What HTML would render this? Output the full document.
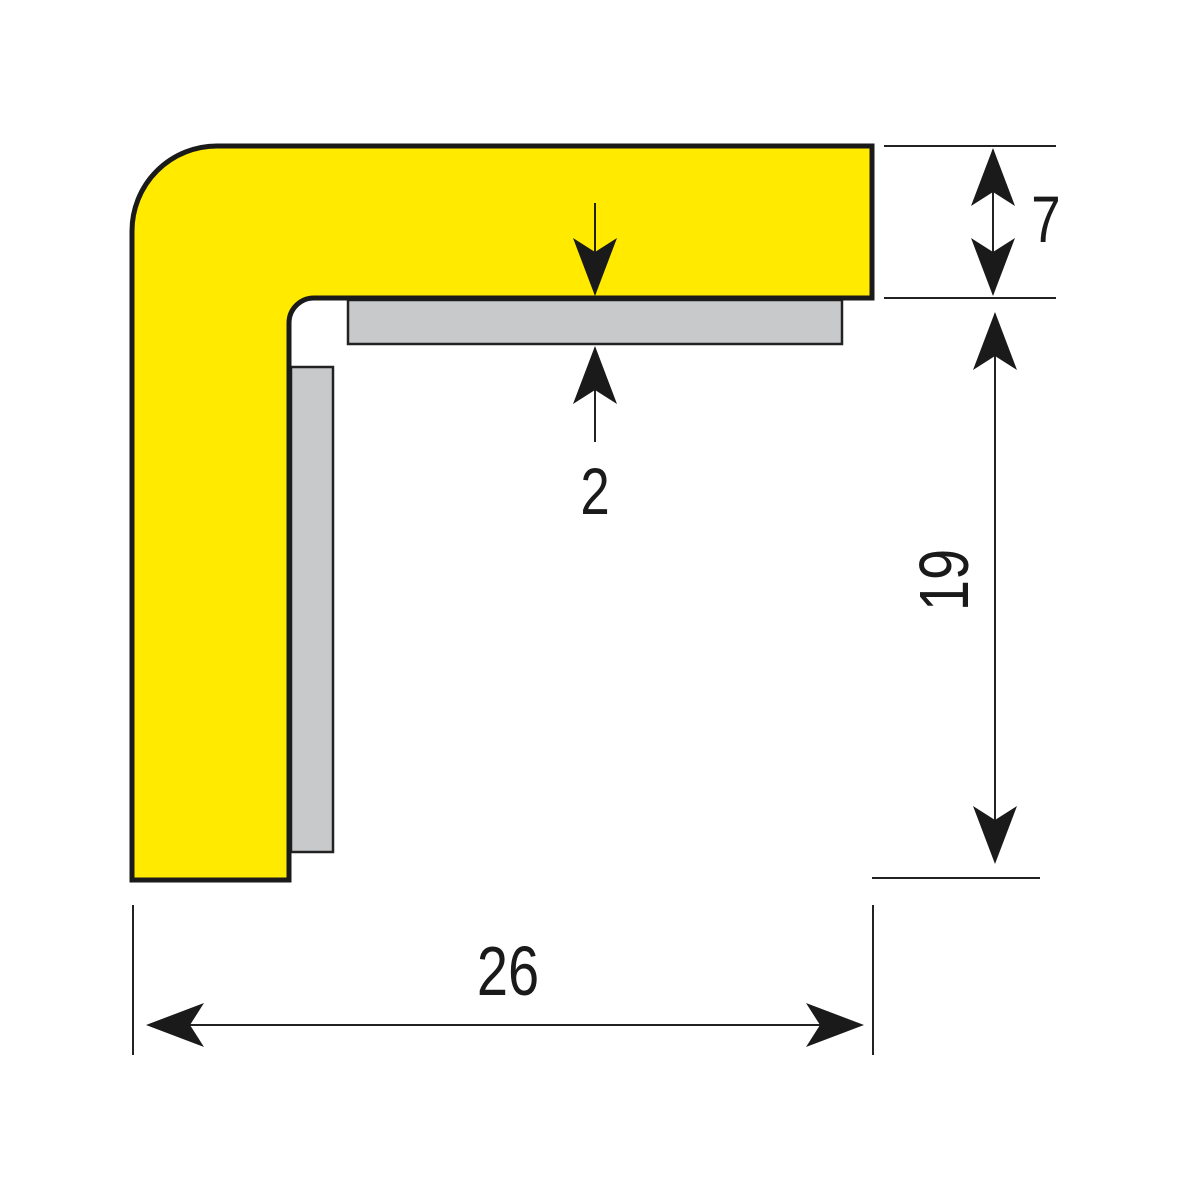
<!DOCTYPE html>
<html><head><style>
html,body{margin:0;padding:0;background:#fff;width:1200px;height:1200px;overflow:hidden}
text{font-family:"Liberation Sans",sans-serif;fill:#1a1a1a}
</style></head><body>
<svg width="1200" height="1200" viewBox="0 0 1200 1200" xmlns="http://www.w3.org/2000/svg">
<defs>
<path id="ah" d="M0 0 L-22 -58 L0 -44 L22 -58 Z" fill="#1a1a1a"/>
</defs>
<!-- gray strips -->
<rect x="348" y="300" width="494" height="44" fill="#c8c9cb" stroke="#222" stroke-width="2.5"/>
<rect x="291" y="367" width="42" height="485" fill="#c8c9cb" stroke="#222" stroke-width="2.5"/>
<!-- yellow profile -->
<path d="M132 880 L132 231 A85 85 0 0 1 217 146 L872 146 L872 298 L314 298 A25 25 0 0 0 289 323 L289 880 Z" fill="#ffea00" stroke="#1a1a1a" stroke-width="5" stroke-linejoin="miter"/>
<!-- extension lines -->
<g stroke="#222" stroke-width="2">
<line x1="884" y1="146" x2="1056" y2="146"/>
<line x1="884" y1="298" x2="1056" y2="298"/>
<line x1="872" y1="878" x2="1040" y2="878"/>
<line x1="133" y1="905" x2="133" y2="1055"/>
<line x1="873" y1="905" x2="873" y2="1055"/>
<!-- 7 -->
<line x1="993" y1="150" x2="993" y2="294"/>
<!-- 19 -->
<line x1="995" y1="314" x2="995" y2="860"/>
<!-- 26 -->
<line x1="150" y1="1025" x2="860" y2="1025"/>
<!-- 2 -->
<line x1="595" y1="203" x2="595" y2="294"/>
<line x1="595" y1="348" x2="595" y2="442"/>
</g>
<!-- arrowheads -->
<use href="#ah" transform="translate(993 148) rotate(180)"/>
<use href="#ah" transform="translate(993 296)"/>
<use href="#ah" transform="translate(995 312) rotate(180)"/>
<use href="#ah" transform="translate(995 864)"/>
<use href="#ah" transform="translate(146 1025) rotate(90)"/>
<use href="#ah" transform="translate(864 1025) rotate(-90)"/>
<use href="#ah" transform="translate(595 296)"/>
<use href="#ah" transform="translate(595 346) rotate(180)"/>
<!-- labels -->
<text x="1046" y="242" font-size="66" text-anchor="middle" transform="translate(1046 0) scale(0.8 1) translate(-1046 0)">7</text>
<text x="595" y="514" font-size="66" text-anchor="middle" transform="translate(595 0) scale(0.8 1) translate(-595 0)">2</text>
<text x="508" y="995" font-size="70" text-anchor="middle" transform="translate(508 0) scale(0.8 1) translate(-508 0)">26</text>
<text font-size="70" text-anchor="middle" transform="translate(968 580) rotate(-90) scale(0.8 1)">19</text>
</svg>
</body></html>
